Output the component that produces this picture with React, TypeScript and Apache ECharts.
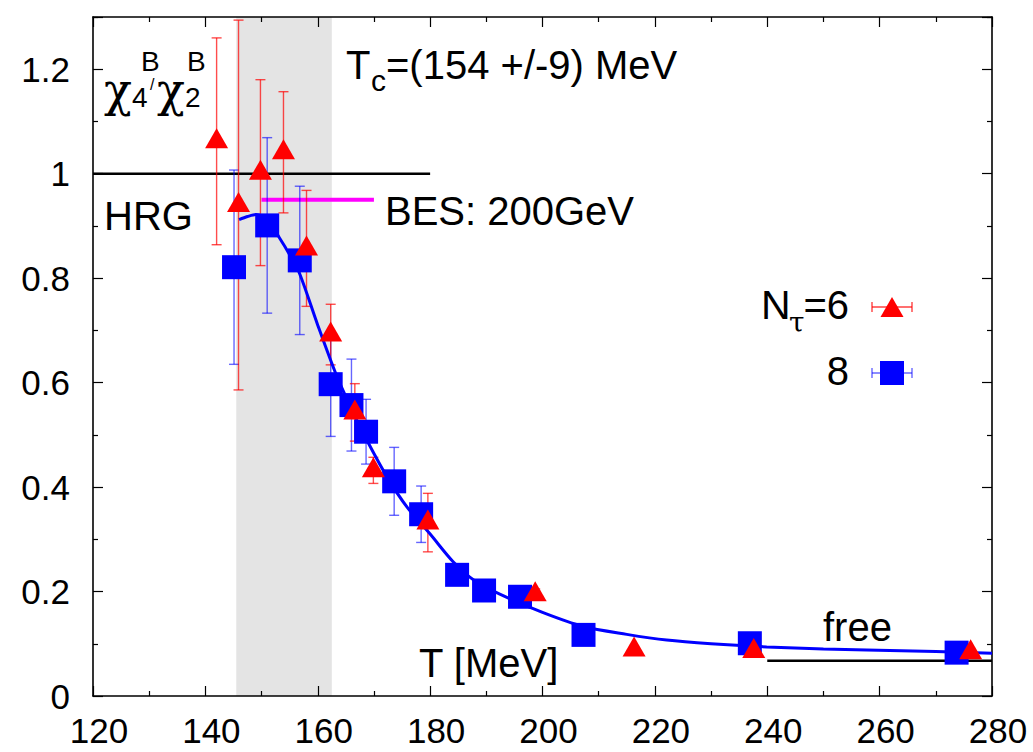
import React, { useEffect, useRef } from 'react';
import * as echarts from 'echarts';

// ---- data ----
const nt6T = [142.0, 145.9, 149.8, 153.9, 158.0, 162.3, 166.6, 169.9, 179.6, 198.7, 216.3, 237.6, 276.2];
const nt6V = [1.062, 0.940, 1.002, 1.041, 0.857, 0.692, 0.543, 0.432, 0.332, 0.195, 0.089, 0.086, 0.084];
const nt6E = [0.198, 0.354, 0.178, 0.116, 0.111, 0.058, 0.055, 0.025, 0.056, 0.010, 0.004, 0.004, 0.004];

const nt8T = [145.1, 151.0, 156.8, 162.3, 166.0, 168.6, 173.6, 178.4, 184.8, 189.6, 196.0, 207.3, 236.9, 273.7];
const nt8V = [0.821, 0.901, 0.834, 0.597, 0.557, 0.506, 0.411, 0.348, 0.232, 0.202, 0.190, 0.117, 0.101, 0.083];
const nt8E = [0.186, 0.168, 0.142, 0.100, 0.088, 0.062, 0.065, 0.054, 0.008, 0.008, 0.008, 0.004, 0.004, 0.003];

const curveT = [146.0, 147.5, 149.0, 151.0, 153.2, 155.0, 156.8, 160.0, 163.4, 166.0, 168.0, 172.3, 176.0, 180.0, 184.1, 188.0, 192.4, 200.0, 207.3, 215.0, 222.1, 230.0, 239.9, 250.0, 257.7, 270.0, 280.0];
const curveV = [0.912, 0.918, 0.922, 0.912, 0.877, 0.845, 0.808, 0.710, 0.612, 0.550, 0.505, 0.420, 0.360, 0.310, 0.257, 0.220, 0.195, 0.160, 0.133, 0.118, 0.107, 0.100, 0.094, 0.090, 0.088, 0.085, 0.082];

const hrgX = [120, 180];
const hrgY = 1.0;
const freeX = [240, 280];
const freeY = 0.0675;
const besX = [150, 170];
const besY = 0.95;
const tcBand = [145.5, 162.5];

const xMin = 120, xMax = 280, xStep = 20;
const yMin = 0, yMax = 1.3, yStep = 0.2;

const FONT = 'Liberation Sans';
const GREEK = 'DejaVu Serif';

function errData(t: number[], v: number[], e: number[]) {
  return t.map((x, i) => [x, v[i] - e[i], v[i] + e[i]]);
}

function errSeries(data: number[][], color: string) {
  return {
    type: 'custom',
    data,
    encode: { x: 0, y: [1, 2] },
    z: 3,
    silent: true,
    renderItem: (params: any, api: any) => {
      const x = api.value(0);
      const lo = api.value(1);
      const hi = api.value(2);
      const p1 = api.coord([x, hi]);
      const p2 = api.coord([x, lo]);
      const w = 5;
      const style = { stroke: color, lineWidth: 1.4, fill: 'none' };
      return {
        type: 'group',
        children: [
          { type: 'line', shape: { x1: p1[0], y1: p1[1], x2: p2[0], y2: p2[1] }, style },
          { type: 'line', shape: { x1: p1[0] - w, y1: p1[1], x2: p1[0] + w, y2: p1[1] }, style },
          { type: 'line', shape: { x1: p2[0] - w, y1: p2[1], x2: p2[0] + w, y2: p2[1] }, style },
        ],
      };
    },
  };
}

function txt(text: string, x: number, y: number, fs: number, align: string = 'left', family: string = FONT) {
  return {
    type: 'text',
    x,
    y,
    z: 100,
    silent: true,
    style: {
      text,
      fontSize: fs,
      fontFamily: family,
      fill: '#000',
      align,
      verticalAlign: 'middle',
      textAlign: align,
      textVerticalAlign: 'middle',
    },
  };
}

export default function App() {
  const ref = useRef<HTMLDivElement>(null);
  useEffect(() => {
    if (!ref.current) return;
    const chart = echarts.init(ref.current, null, { renderer: 'svg' });

    const axisCommon = {
      type: 'value',
      axisLine: { show: true, onZero: false, lineStyle: { color: '#000', width: 1.6 } },
      axisTick: { show: true, inside: true, length: 10, lineStyle: { color: '#000', width: 1.2 } },
      minorTick: { show: true, splitNumber: 2, length: 5, lineStyle: { color: '#000', width: 1.2 } },
      splitLine: { show: false },
      minorSplitLine: { show: false },
    };
    const xLabel = { show: true, fontSize: 35, fontFamily: FONT, color: '#000', margin: 17, padding: [0, 0, 0, 12] };
    const yLabel = { show: true, fontSize: 35, fontFamily: FONT, color: '#000', margin: 23, showMaxLabel: false };

    const legendRed = 'rgba(255,0,0,0.75)';
    const legendBlue = 'rgba(0,0,255,0.6)';

    const option: any = {
      animation: false,
      backgroundColor: '#fff',
      grid: { left: 93, right: 41, top: 17, bottom: 56, containLabel: false },
      xAxis: [
        { ...axisCommon, position: 'bottom', min: xMin, max: xMax, interval: xStep, axisLabel: xLabel },
        { ...axisCommon, position: 'top', min: xMin, max: xMax, interval: xStep, axisLabel: { show: false } },
      ],
      yAxis: [
        { ...axisCommon, position: 'left', min: yMin, max: yMax, interval: yStep, axisLabel: yLabel },
        { ...axisCommon, position: 'right', min: yMin, max: yMax, interval: yStep, axisLabel: { show: false } },
      ],
      series: [
        {
          type: 'custom',
          data: [tcBand],
          z: 0,
          silent: true,
          renderItem: (params: any, api: any) => {
            const a = api.coord([api.value(0), yMax]);
            const b = api.coord([api.value(1), yMin]);
            return { type: 'rect', shape: { x: a[0], y: a[1], width: b[0] - a[0], height: b[1] - a[1] }, style: { fill: '#e4e4e4' } };
          },
          encode: { x: [0, 1] },
        },
        {
          type: 'line', data: hrgX.map((x) => [x, hrgY]), showSymbol: false, z: 2, silent: true,
          lineStyle: { color: '#000', width: 2.6 },
        },
        {
          type: 'line', data: freeX.map((x) => [x, freeY]), showSymbol: false, z: 2, silent: true,
          lineStyle: { color: '#000', width: 2.6 },
        },
        {
          type: 'line', data: besX.map((x) => [x, besY]), showSymbol: false, z: 2, silent: true,
          lineStyle: { color: '#ff00ff', width: 4 },
        },
        errSeries(errData(nt8T, nt8V, nt8E), 'rgba(0,0,255,0.6)'),
        errSeries(errData(nt6T, nt6V, nt6E), 'rgba(255,0,0,0.7)'),
        {
          type: 'line', data: curveT.map((x, i) => [x, curveV[i]]), showSymbol: false, smooth: 0.3, z: 4, silent: true,
          lineStyle: { color: '#0000ff', width: 3 },
        },
        {
          type: 'scatter', data: nt8T.map((x, i) => [x, nt8V[i]]), symbol: 'rect', symbolSize: 24, z: 5, silent: true,
          itemStyle: { color: '#0000ff', opacity: 1 },
        },
        {
          type: 'scatter', data: nt6T.map((x, i) => [x, nt6V[i]]), symbol: 'triangle', symbolSize: [23, 20], symbolOffset: [0, -3], z: 6, silent: true,
          itemStyle: { color: '#ff0000', opacity: 1 },
        },
      ],
      graphic: [
        // chi label
        txt('\u03c7', 104, 90, 46, 'left', GREEK),
        txt('4', 132, 97, 28),
        txt('B', 141, 61, 28),
        txt('/', 150, 84, 16),
        txt('\u03c7', 157, 90, 46, 'left', GREEK),
        txt('2', 185, 97, 28),
        txt('B', 187, 61, 28),
        // Tc
        txt('T', 346, 65, 40),
        txt('c', 371, 80, 30),
        txt('=(154 +/-9) MeV', 386, 65, 40),
        txt('HRG', 104, 216, 40),
        txt('BES: 200GeV', 385, 211, 40),
        txt('free', 823, 627, 40),
        txt('T [MeV]', 419, 663, 40),
        // legend
        txt('N', 761, 305, 41),
        txt('\u03c4', 789, 322, 28, 'left', GREEK),
        txt('=6', 849, 305, 40, 'right'),
        txt('8', 849, 371, 40, 'right'),
        { type: 'line', z: 100, shape: { x1: 872, y1: 307, x2: 912, y2: 307 }, style: { stroke: legendRed, lineWidth: 1.4 } },
        { type: 'line', z: 100, shape: { x1: 872, y1: 302, x2: 872, y2: 312 }, style: { stroke: legendRed, lineWidth: 1.4 } },
        { type: 'line', z: 100, shape: { x1: 912, y1: 302, x2: 912, y2: 312 }, style: { stroke: legendRed, lineWidth: 1.4 } },
        { type: 'polygon', z: 101, shape: { points: [[892, 297], [903.5, 317], [880.5, 317]] }, style: { fill: '#ff0000' } },
        { type: 'line', z: 100, shape: { x1: 872, y1: 373, x2: 912, y2: 373 }, style: { stroke: legendBlue, lineWidth: 1.4 } },
        { type: 'line', z: 100, shape: { x1: 872, y1: 368, x2: 872, y2: 378 }, style: { stroke: legendBlue, lineWidth: 1.4 } },
        { type: 'line', z: 100, shape: { x1: 912, y1: 368, x2: 912, y2: 378 }, style: { stroke: legendBlue, lineWidth: 1.4 } },
        { type: 'rect', z: 101, shape: { x: 880, y: 361, width: 24, height: 24 }, style: { fill: '#0000ff' } },
      ],
    };
    chart.setOption(option);
    return () => chart.dispose();
  }, []);
  return <div ref={ref} style={{ position: 'absolute', left: 0, top: 0, width: 1033, height: 752 }} />;
}
